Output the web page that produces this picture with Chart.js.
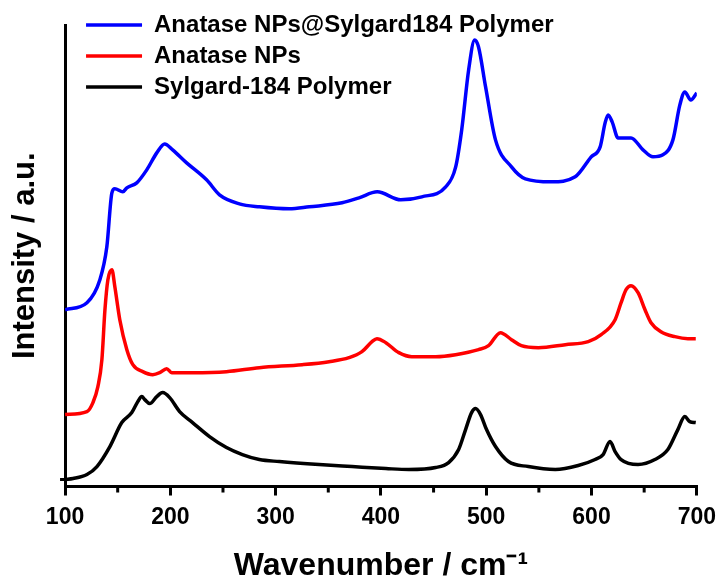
<!DOCTYPE html>
<html><head><meta charset="utf-8">
<script src="https://cdn.jsdelivr.net/npm/chart.js@4.4.1/dist/chart.umd.min.js"></script>
<style>html,body{margin:0;padding:0;background:#fff}canvas{display:block;background:#fff}</style>
</head><body>
<canvas id="c" width="724" height="580"></canvas>
<script>
const xTicks = [100, 200, 300, 400, 500, 600, 700];
const minorTicks = [150, 250, 350, 450, 550, 650];
const yTicks = [7];
const seriesNames = ['Anatase NPs@Sylgard184 Polymer', 'Anatase NPs', 'Sylgard-184 Polymer'];

const compWn = [100,120.8,133.1,139.7,144.5,147.3,154.9,158.7,168.1,177.6,187.1,194.6,202.2,215.5,234.4,246.7,265.6,284.6,312.9,331.9,363.1,379.2,396.5,418.9,438.8,461.5,471.0,476.7,483.3,489,492.7,499.4,508.8,524,537.2,561.8,584.5,599.7,608.2,612.9,615.8,619.6,625.2,637.5,648.9,658.4,667.8,677.3,683.9,688.6,694.3,700];
const compI  = [177,184,207,240,294,298,295,299,304,317,334,343,337,324,307,292,283,280,278,280,284,289,295,287,290,300,320,357,417,447,440,400,347,320,308,305,310,330,340,364,372,365,349,349,337,330,332,347,382,395,387,394];

const npWn = [100,120.8,126.5,131.2,135,137.9,140.7,144.5,147.3,152,158.7,164.4,173.8,183.3,189.9,196.5,201.3,221.1,253.3,284.5,325.2,350.8,369.7,382,391.5,396.2,404.7,417,429.3,452,470.9,492.7,502.2,513.5,524,533.4,549.5,575.1,596.9,609.2,622.4,628.1,632.8,637.5,644.2,650.8,656.5,665.9,679.2,691.5,699];
const npI  = [72,75,84,100,127,177,207,217,200,167,137,122,115,112,114,118,114,114,115,119,122,125,129,135,145,148,144,134,130,130,132,137,141,154,147,141,139,142,145,152,167,184,197,201,194,177,164,155,150,148,148];

const polyWn = [100,107.6,120.8,130.3,142.6,153.9,163.4,169.1,172.9,175.7,180.4,187.1,192.7,199.4,208.8,221.1,237.2,253.3,268.4,284.5,303.5,341.3,372.6,404.7,426.5,452,464.3,473.8,480.4,486.1,489.9,494.6,500.3,508.8,521.1,540,565.6,587.4,603.4,611,617.6,622.4,628.1,644.2,660.2,672.5,682,688.6,693.3,699];
const polyI  = [7,8,12,20,40,64,74,85,90,87,83,90,94,89,75,64,50,39,32,27,25,22,20,18,17,19,24,37,57,74,78,72,57,40,25,20,17,21,27,32,45,35,27,22,27,37,57,70,65,64];

const FONT = "'Liberation Sans', Arial, Helvetica, sans-serif";
Chart.defaults.font.family = FONT;
Chart.defaults.color = '#000';

const toPts = (xs, ys) => xs.map((x, i) => ({x: x, y: ys[i]}));

const legendShift = {
  id: 'legendShift',
  afterLayout(chart) {
    const l = chart.legend, a = chart.chartArea;
    l.left = a.left + 14;
    l.top = a.top - 19;
  }
};

const minorTickPlugin = {
  id: 'minorTicks',
  afterDraw(chart) {
    const s = chart.scales.x, c = chart.ctx;
    c.save();
    c.strokeStyle = '#000';
    c.lineWidth = 3;
    minorTicks.forEach(v => {
      const px = s.getPixelForValue(v);
      c.beginPath();
      c.moveTo(px, s.top);
      c.lineTo(px, s.top + 6);
      c.stroke();
    });
    c.restore();
  }
};

function ds(label, pts, color) {
  return {label, data: pts, borderColor: color, backgroundColor: color, borderWidth: 3.5,
    pointRadius: 0, cubicInterpolationMode: 'monotone', fill: false};
}

new Chart(document.getElementById('c'), {
  type: 'line',
  data: {datasets: [
    ds(seriesNames[0], toPts(compWn, compI), '#0000ff'),
    ds(seriesNames[1], toPts(npWn, npI), '#ff0000'),
    ds(seriesNames[2], toPts(polyWn, polyI), '#000000')
  ]},
  options: {
    responsive: false, animation: false, devicePixelRatio: 1,
    layout: {padding: {top: 25, right: 25, bottom: 0, left: 0}},
    plugins: {
      legend: {position: 'chartArea', align: 'start',
        labels: {usePointStyle: true, pointStyle: 'line', pointStyleWidth: 56, padding: 7, color: '#000',
          font: {size: 24, weight: 'bold'}}},
      tooltip: {enabled: false}
    },
    scales: {
      x: {type: 'linear', min: 100, max: 700,
        afterBuildTicks: s => { s.ticks = xTicks.map(v => ({value: v})); },
        border: {display: true, color: '#000', width: 3},
        grid: {display: true, drawOnChartArea: false, drawTicks: true, tickLength: 9, lineWidth: 3, color: '#000'},
        ticks: {padding: 8, color: '#000', font: {size: 23, weight: 'bold'}, maxRotation: 0, autoSkip: false},
        title: {display: true, text: 'Wavenumber / cm\u207B\u00B9', color: '#000',
          font: {size: 32, weight: 'bold', lineHeight: 0.84}, padding: {top: 14, bottom: 0}}
      },
      y: {type: 'linear', min: 0, max: 462,
        afterBuildTicks: s => { s.ticks = yTicks.map(v => ({value: v})); },
        border: {display: true, color: '#000', width: 3},
        grid: {display: true, drawOnChartArea: false, drawTicks: true, tickLength: 5, lineWidth: 3, color: '#000'},
        ticks: {display: false},
        title: {display: true, text: 'Intensity / a.u.', color: '#000',
          font: {size: 31, weight: 'bold', lineHeight: 0.84}, padding: {top: 12, bottom: 22}}
      }
    }
  },
  plugins: [legendShift, minorTickPlugin]
});
</script>
</body></html>
